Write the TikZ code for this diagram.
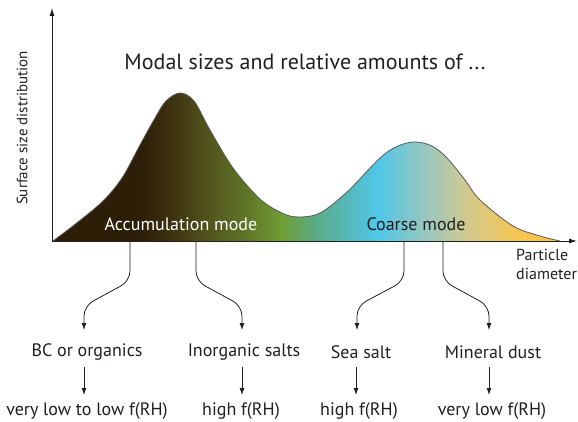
\documentclass[tikz,border=0pt]{standalone}
\usepackage{fontspec}
\setmainfont{PT Sans}
\usetikzlibrary{arrows.meta,calc}
\definecolor{c0}{HTML}{2D1E08}
\definecolor{c1}{HTML}{2D1E08}
\definecolor{c2}{HTML}{3F3410}
\definecolor{c3}{HTML}{4E4D1C}
\definecolor{c4}{HTML}{5E7426}
\definecolor{c5}{HTML}{6E9E35}
\definecolor{c6}{HTML}{5CAA84}
\definecolor{c7}{HTML}{50C6E9}
\definecolor{c8}{HTML}{A2C8B8}
\definecolor{c9}{HTML}{D2C98E}
\definecolor{c10}{HTML}{F7C650}
\definecolor{c11}{HTML}{FBC040}
\definecolor{txt}{HTML}{231F20}
\definecolor{titleblue}{HTML}{1F3D6E}
\pgfdeclarehorizontalshading{modes}{100bp}{color(0bp)=(c0); color(25bp)=(c0); color(33.6bp)=(c1); color(37.0bp)=(c2); color(39.5bp)=(c3); color(43.9bp)=(c4); color(47.6bp)=(c5); color(50.8bp)=(c6); color(57.0bp)=(c7); color(62.4bp)=(c8); color(65.8bp)=(c9); color(70.8bp)=(c10); color(75bp)=(c11); color(100bp)=(c11)}
\begin{document}
\begin{tikzpicture}[x=1pt,y=-1pt,
  lab/.style={text=txt,font=\fontsize{18}{20}\selectfont,inner sep=0pt},
  conn/.style={draw=txt,line width=0.8pt,-{Latex[length=7pt,width=5pt]}},
  axis/.style={draw=txt,line width=0.8pt,-{Latex[length=8pt,width=5pt]}}]
\useasboundingbox (0,0) rectangle (578,422);
% title fragment
\begin{scope}
\clip (0,0) rectangle (578,422);
\node[anchor=base,text=titleblue,font=\fontsize{34}{40}\selectfont,inner sep=0pt] (ttl) at (437,-9) {g};
\end{scope}
% curve
\path[shading=modes] plot[smooth,tension=0.55] coordinates {(53,241) (78,222) (103,201) (122,178) (140,145) (155,118) (166,101) (180,93) (194,101) (210,130) (233,168) (260,199) (282,213) (298,217) (320,213) (347,192) (380,158) (398,146) (415,142) (432,146) (447,158) (465,180) (480,200) (513,226) (540,236) (560,241)} -- cycle;
\draw[draw=black!65,line width=0.8pt] plot[smooth,tension=0.55] coordinates {(53,241) (78,222) (103,201) (122,178) (140,145) (155,118) (166,101) (180,93) (194,101) (210,130) (233,168) (260,199) (282,213) (298,217) (320,213) (347,192) (380,158) (398,146) (415,142) (432,146) (447,158) (465,180) (480,200) (513,226) (540,236) (560,241)};
% axes
\coordinate (o) at (52,241);
\coordinate (ytop) at (52,8);
\coordinate (xend) at (577,241);
\draw[axis] (o) -- (ytop);
\draw[axis] (o) -- (xend);
% texts
\node[text=txt,font=\fontsize{22}{24}\selectfont,inner sep=0pt] (title) at (305,62) {Modal sizes and relative amounts of ...};
\node[lab,text=white] (acc) at (181,224) {Accumulation mode};
\node[lab] (coarse) at (416,224) {Coarse mode};
\node[text=txt,font=\fontsize{15}{17}\selectfont,inner sep=0pt,rotate=90] (ylab) at (22,128) {Surface size distribution};
\node[text=txt,font=\fontsize{16}{19}\selectfont,inner sep=0pt,align=left,anchor=north west] (xlab) at (516,249) {Particle\\diameter};
% ticks and arrows
\coordinate (t1) at (130,241); \coordinate (e1) at (84,330);
\coordinate (t2) at (196,241); \coordinate (e2) at (242,330);
\coordinate (t3) at (404,241); \coordinate (e3) at (357,330);
\coordinate (t4) at (443,241); \coordinate (e4) at (489,330);
\foreach \i in {1,2,3,4}{
  \draw[conn,rounded corners=10pt] (t\i) -- ++(0,40) -- ($(e\i)+(0,-24)$) -- (e\i);
}
\node[lab] (bc) at (87,352) {BC or organics};
\node[lab] (ino) at (244,352) {Inorganic salts};
\node[lab] (sea) at (361,352) {Sea salt};
\node[lab] (min) at (493,352) {Mineral dust};
\node[lab] (f1) at (87,411) {very low to low f(RH)};
\node[lab] (f2) at (241,411) {high f(RH)};
\node[lab] (f3) at (359,411) {high f(RH)};
\node[lab] (f4) at (492,411) {very low f(RH)};
\coordinate (a1) at (84,0); \coordinate (a2) at (242,0); \coordinate (a3) at (356,0); \coordinate (a4) at (489,0);
\draw[conn] (a1 |- 0,367) coordinate (s1) -- (s1 |- 0,395);
\draw[conn] (a2 |- 0,367) coordinate (s2) -- (s2 |- 0,395);
\draw[conn] (a3 |- 0,367) coordinate (s3) -- (s3 |- 0,395);
\draw[conn] (a4 |- 0,367) coordinate (s4) -- (s4 |- 0,395);
\end{tikzpicture}
\end{document}
